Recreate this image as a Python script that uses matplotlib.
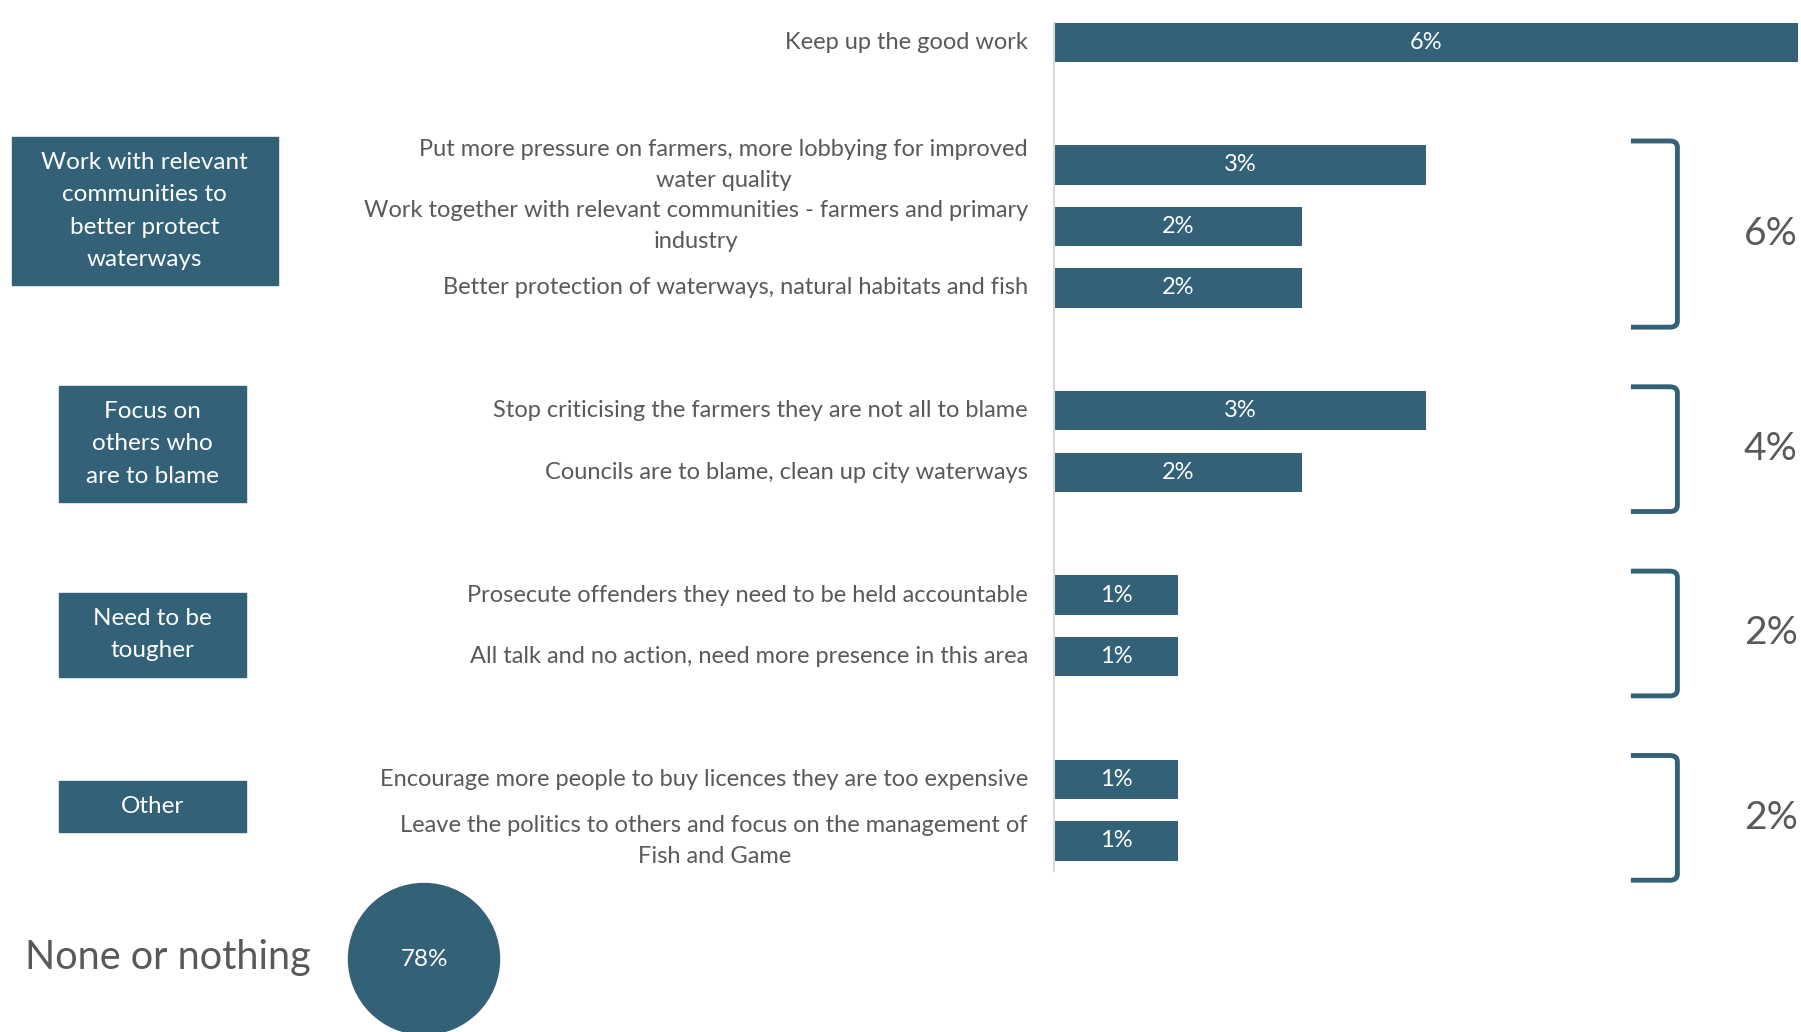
import matplotlib.pyplot as plt
from matplotlib.patches import Rectangle, Ellipse, PathPatch
from matplotlib.path import Path

plt.rcParams['font.family'] = ['Lato', 'DejaVu Sans']

# Responses, their shares (%) and the row each one sits on
items = [
    "Keep up the good work",
    "Put more pressure on farmers, more lobbying for improved\nwater quality",
    "Work together with relevant communities - farmers and primary\nindustry",
    "Better protection of waterways, natural habitats and fish",
    "Stop criticising the farmers they are not all to blame",
    "Councils are to blame, clean up city waterways",
    "Prosecute offenders they need to be held accountable",
    "All talk and no action, need more presence in this area",
    "Encourage more people to buy licences they are too expensive",
    "Leave the politics to others and focus on the management of\nFish and Game",
]
values = [6, 3, 2, 2, 3, 2, 1, 1, 1, 1]
rows = [0, 2, 3, 4, 6, 7, 9, 10, 12, 13]

# Themes grouping the responses, with net share per theme
groups = [
    "Work with relevant\ncommunities to\nbetter protect\nwaterways",
    "Focus on\nothers who\nare to blame",
    "Need to be\ntougher",
    "Other",
]
group_rows = [[2, 3, 4], [6, 7], [9, 10], [12, 13]]
group_totals = [6, 4, 2, 2]

none_label = "None or nothing"
none_value = 78

BLUE = '#336178'
GREY = '#595959'
W, H = 1801, 1032

fig = plt.figure(figsize=(W / 100, H / 100), dpi=100)


def fx(px):
    return px / W


def fy(py):
    return 1 - py / H


# bar panel
ax = fig.add_axes([fx(1054), fy(871), fx(1797.6) - fx(1054), fy(23) - fy(871)])
ax.barh(rows, values, height=0.64, color=BLUE)
ax.set_xlim(0, 6)
ax.set_ylim(13.49, -0.31)
for s in ['top', 'right', 'bottom']:
    ax.spines[s].set_visible(False)
ax.spines['left'].set_color('#d9d9d9')
ax.spines['left'].set_linewidth(1.5)
ax.set_xticks([])
ax.set_yticks([])

for label, v, r in zip(items, values, rows):
    ax.text(v / 2, r, f"{v}%", ha='center', va='center', color='white', fontsize=17)
    ax.text(-0.035, r, label, transform=ax.get_yaxis_transform(), ha='right',
            va='center', multialignment='center', color=GREY, fontsize=17,
            linespacing=1.6)

# brackets and net totals
bx0, bx1 = 4.655, 5.03
rx, ry = 0.06, 0.1
for rws, total in zip(group_rows, group_totals):
    top, bot = min(rws) - 0.39, max(rws) + 0.64
    verts = [(bx0, top), (bx1 - rx, top), (bx1, top), (bx1, top + ry),
             (bx1, bot - ry), (bx1, bot), (bx1 - rx, bot), (bx0, bot)]
    codes = [Path.MOVETO, Path.LINETO, Path.CURVE3, Path.CURVE3,
             Path.LINETO, Path.CURVE3, Path.CURVE3, Path.LINETO]
    ax.add_patch(PathPatch(Path(verts, codes), fill=False, edgecolor=BLUE,
                           linewidth=3.5, clip_on=False))
    ax.text(6.0, (top + bot) / 2, f"{total}%", ha='right', va='center',
            color=GREY, fontsize=28)

# theme boxes on the left
boxes = [(11.5, 137, 266.5, 148), (58.6, 386, 187, 116),
         (58.6, 593, 187, 83.5), (58.6, 781, 187, 50.6)]
for name, (x, y, w, h) in zip(groups, boxes):
    fig.patches.append(Rectangle((fx(x), fy(y + h)), w / W, h / H,
                                 transform=fig.transFigure, color=BLUE))
    fig.text(fx(x + w / 2), fy(y + h / 2), name, ha='center', va='center',
             color='white', fontsize=17.5, linespacing=1.65)

# "none" share
fig.text(fx(25), fy(958), none_label, ha='left', va='center', color=GREY,
         fontsize=28.5)
fig.patches.append(Ellipse((fx(424), fy(959)), 151 / W, 151 / H,
                           transform=fig.transFigure, color=BLUE))
fig.text(fx(424), fy(959), f"{none_value}%", ha='center', va='center',
         color='white', fontsize=17.5)

fig.savefig('out.png', dpi=100)
